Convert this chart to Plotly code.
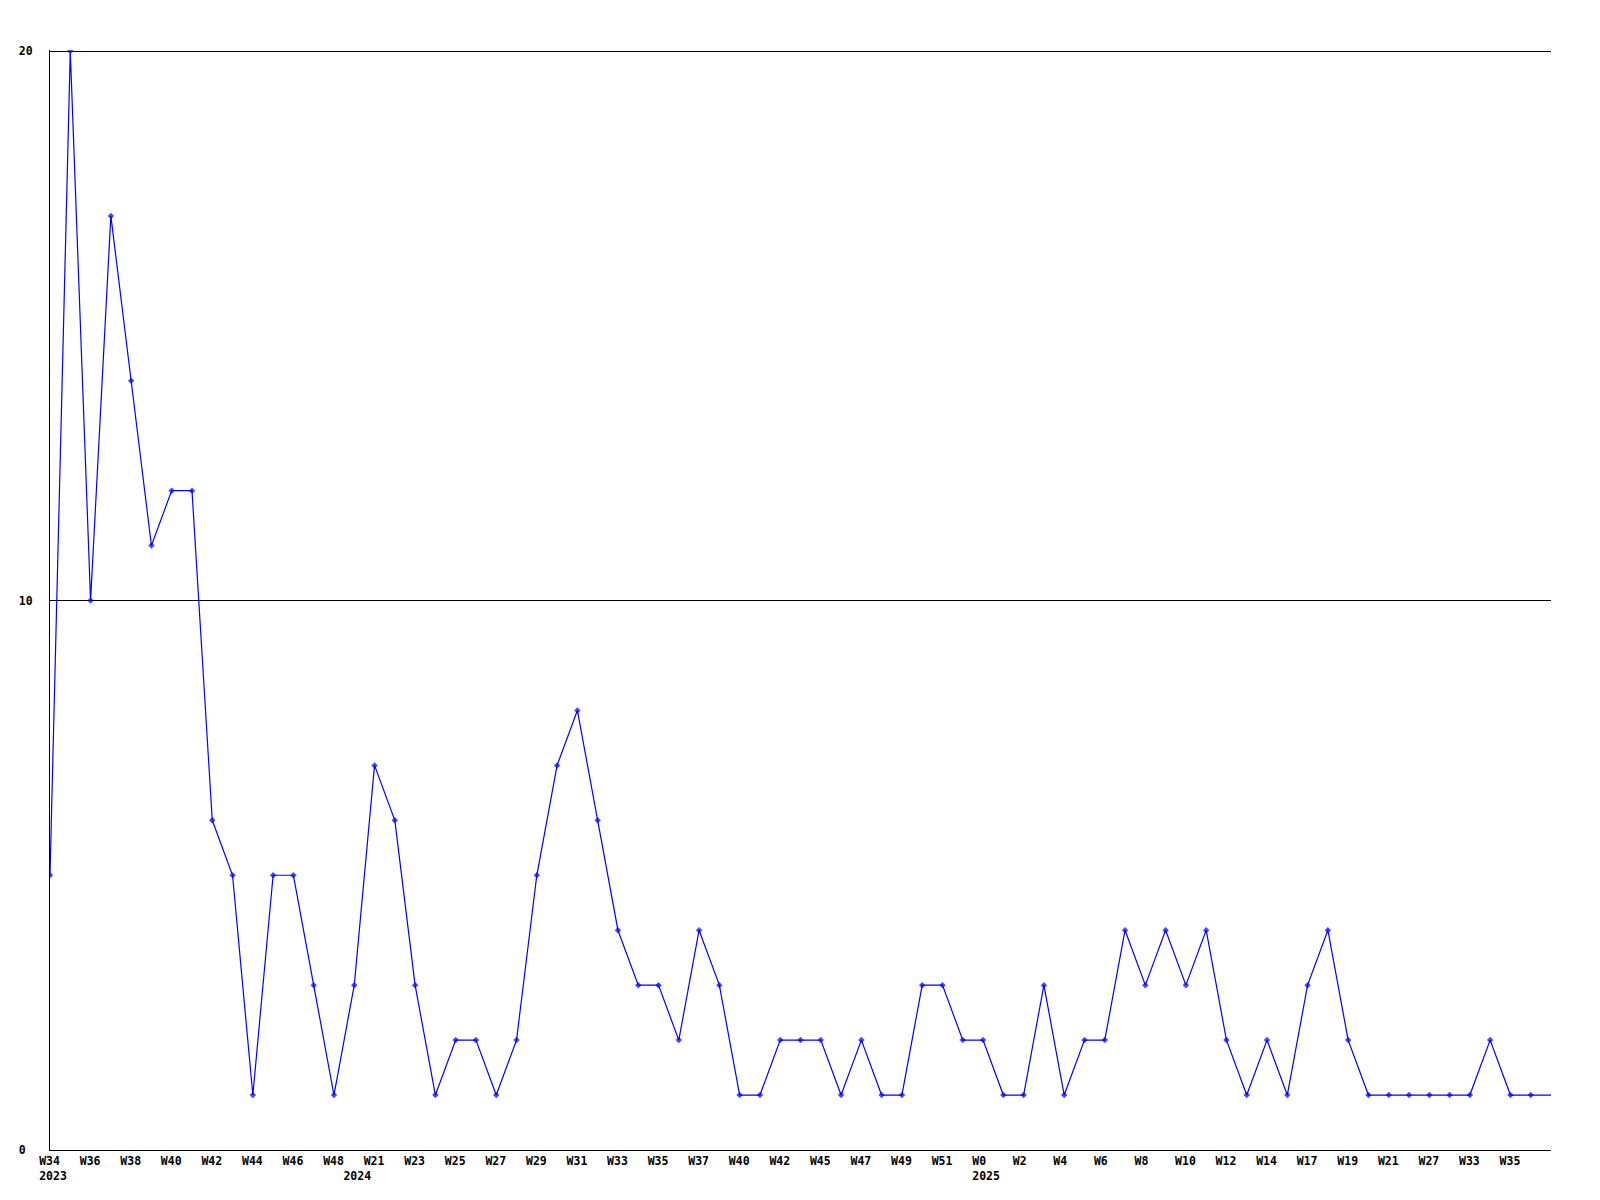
import plotly.graph_objects as go

# ---- data ----
weeks = ["W34", "W35", "W36", "W37", "W38", "W39", "W40", "W41", "W42", "W43",
         "W44", "W45", "W46", "W47", "W48", "W20", "W21", "W22", "W23", "W24",
         "W25", "W26", "W27", "W28", "W29", "W30", "W31", "W32", "W33", "W34",
         "W35", "W36", "W37", "W39", "W40", "W41", "W42", "W44", "W45", "W46",
         "W47", "W48", "W49", "W50", "W51", "W52", "W0", "W1", "W2", "W3",
         "W4", "W5", "W6", "W7", "W8", "W9", "W10", "W11", "W12", "W13",
         "W14", "W16", "W17", "W18", "W19", "W20", "W21", "W24", "W27", "W30",
         "W33", "W34", "W35", "W36", "W37"]
years = ([2023] * 15) + ([2024] * 31) + ([2025] * 29)
values = [5, 20, 10, 17, 14, 11, 12, 12, 6, 5,
          1, 5, 5, 3, 1, 3, 7, 6, 3, 1,
          2, 2, 1, 2, 5, 7, 8, 6, 4, 3,
          3, 2, 4, 3, 1, 1, 2, 2, 2, 1,
          2, 1, 1, 3, 3, 2, 2, 1, 1, 3,
          1, 2, 2, 4, 3, 4, 3, 4, 2, 1,
          2, 1, 3, 4, 2, 1, 1, 1, 1, 1,
          1, 2, 1, 1, 1]
y_ticks = [0, 10, 20]

x = list(range(len(values)))
NB = "\u00a0"


def pad(s, n=4):
    return s + NB * (n - len(s))


# week label on every other point; year label at the first point of each year
tickvals, ticktext = [], []
for i in range(len(weeks) - 2):
    first_of_year = (i == 0) or (years[i] != years[i - 1])
    if i % 2 == 0 or first_of_year:
        wk = weeks[i] if i % 2 == 0 else ""
        lab = pad(wk)
        if first_of_year:
            lab += "<br>" + pad(str(years[i]))
        tickvals.append(i)
        ticktext.append(lab)

marker_sizes = [5] * (len(values) - 1) + [0]

FONT = "DejaVu Sans Mono"
FS = 11.5

fig = go.Figure()
fig.add_trace(go.Scatter(
    x=x, y=values, mode="lines+markers",
    line=dict(color="#0000ff", width=1.2),
    marker=dict(symbol="diamond", size=marker_sizes, color="#0000ff",
                line=dict(width=0)),
    hoverinfo="skip", showlegend=False,
))

# page body has an 8px margin, compensate so the plot sits at 50..1551 x 50..1150
fig.update_layout(
    width=1600, height=1200,
    margin=dict(l=42, r=57, t=42, b=58, autoexpand=False),
    paper_bgcolor="white", plot_bgcolor="white",
    font=dict(family=FONT, size=FS, color="black", weight="bold"),
    showlegend=False,
)
fig.update_xaxes(
    range=[0, len(values) - 1],
    tickmode="array", tickvals=tickvals, ticktext=ticktext,
    tickangle=0,
    showgrid=False, zeroline=False,
    showline=True, linecolor="black", linewidth=1,
    ticks="", ticklabelstandoff=0, ticklabelshift=3,
    tickfont=dict(family=FONT, size=FS, color="black", weight="bold"),
)
fig.update_yaxes(
    range=[0, 20.02],
    tickmode="array", tickvals=y_ticks,
    ticktext=[pad(str(v), 2) for v in y_ticks],
    showgrid=True, gridcolor="black", gridwidth=1,
    zeroline=False,
    showline=True, linecolor="black", linewidth=1,
    ticks="", ticklabelstandoff=14,
    tickfont=dict(family=FONT, size=FS, color="black", weight="bold"),
)

fig.write_html("out.html")
